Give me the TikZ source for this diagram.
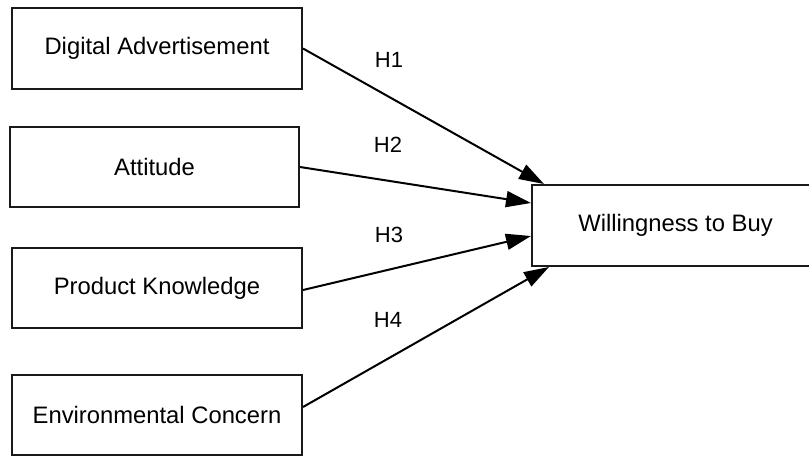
\documentclass[tikz,border=0pt]{standalone}
\usepackage{fontspec}
\setmainfont{Liberation Sans}
\usetikzlibrary{arrows.meta}
\begin{document}
\begin{tikzpicture}[x=1pt,y=-1pt,
  box/.style={draw=black!90, line width=2pt, rectangle, inner sep=0pt, font=\fontsize{23.8}{28}\selectfont, text=black},
  link/.style={line width=2pt, draw=black, -{Triangle[length=25pt,width=16pt]}},
  hlabel/.style={font=\fontsize{22}{26}\selectfont, text=black}]
\useasboundingbox (0,0) rectangle (809,456);
\clip (0,0) rectangle (809,456);
\node[box, minimum width=290pt, minimum height=81pt] (d1) at (157,48.5) {Digital Advertisement};
\node[box, minimum width=289pt, minimum height=80pt] (d2) at (154.5,167) {Attitude};
\node[box, minimum width=290pt, minimum height=80pt] (d3) at (157,288) {Product Knowledge};
\node[box, minimum width=290pt, minimum height=80pt] (d4) at (157,415) {Environmental Concern};
\node[box, minimum width=287pt, minimum height=81pt] (w) at (675.5,225.5) {Willingness to Buy};
\draw[link] (d1.east) -- ([xshift=13pt]w.north west);
\draw[link] (d2.east) -- ([yshift=22.5pt]w.west);
\draw[link] ([yshift=-2pt]d3.east) -- ([yshift=-10.5pt]w.west);
\draw[link] ([yshift=8pt]d4.east) -- ([xshift=18pt]w.south west);
\node[hlabel] (h1) at (389,60) {H1};
\node[hlabel] (h2) at (388,145) {H2};
\node[hlabel] (h3) at (389,235) {H3};
\node[hlabel] (h4) at (388,320) {H4};
\end{tikzpicture}
\end{document}
